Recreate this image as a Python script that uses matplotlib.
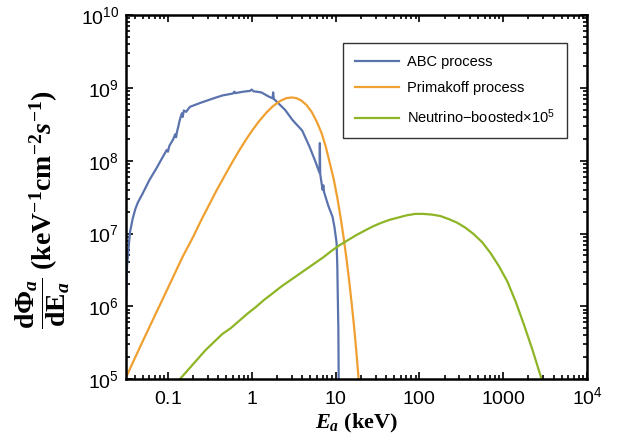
import numpy as np
import matplotlib.pyplot as plt
from matplotlib.ticker import LogLocator, FixedLocator, FixedFormatter, NullFormatter

# ABC process (keV, flux)
abc_e = [0.0316, 0.0325, 0.034, 0.0353, 0.038, 0.041, 0.044, 0.050, 0.060, 0.074, 0.085,
         0.097, 0.100, 0.104, 0.115, 0.122, 0.125, 0.128, 0.140, 0.147, 0.150,
         0.155, 0.165, 0.183, 0.25, 0.35, 0.45, 0.60, 0.62, 0.64, 0.80,
         0.95, 1.0, 1.05, 1.3, 1.6, 1.78, 1.80, 1.83, 2.04, 2.5,
         3.08, 4.0, 4.9, 5.7, 6.45, 6.50, 6.56, 7.0, 7.15, 7.3,
         8.2, 9.2, 9.7, 10.0, 10.3, 10.5, 10.6, 10.8, 10.9, 11.0]
abc_f = [1.0e6, 3.5e6, 6.5e6, 1.05e7, 1.6e7, 2.2e7, 2.7e7, 3.55e7, 5.4e7, 8.1e7, 1.08e8,
         1.41e8, 1.33e8, 1.6e8, 1.95e8, 2.3e8, 2.1e8, 2.45e8, 3.8e8, 4.5e8, 4.0e8,
         4.9e8, 4.7e8, 5.5e8, 6.3e8, 7.2e8, 7.9e8, 8.4e8, 8.9e8, 8.5e8, 8.9e8,
         9.1e8, 9.5e8, 9.0e8, 8.7e8, 7.6e8, 7.2e8, 8.7e8, 7.1e8, 6.3e8, 5.0e8,
         3.6e8, 2.6e8, 1.55e8, 1.0e8, 6.8e7, 1.75e8, 6.6e7, 4.0e7, 4.6e7, 3.7e7,
         2.4e7, 1.7e7, 1.23e7, 9.5e6, 7.4e6, 3.5e6, 1.7e6, 5.0e5, 1.0e5, 3.0e4]

# Primakoff process
prim_e = [0.0316, 0.04, 0.05, 0.07, 0.1, 0.15, 0.2, 0.25, 0.3, 0.38, 0.5, 0.6,
          0.7, 0.85, 1.0, 1.2, 1.5, 1.8, 2.2, 2.6, 3.0, 3.4, 3.9, 4.5, 5.2, 6.0,
          6.8, 7.6, 8.5, 9.5, 10.5, 11.5, 12.5, 13.5, 14.5, 15.5, 16.5, 17.5,
          18.5, 19.5]
prim_f = [1.05e5, 1.9e5, 3.3e5, 7.5e5, 1.78e6, 4.8e6, 9.0e6, 1.53e7, 2.3e7, 3.9e7, 6.9e7, 1.0e8,
          1.35e8, 1.93e8, 2.55e8, 3.4e8, 4.6e8, 5.65e8, 6.66e8, 7.25e8, 7.4e8, 7.25e8, 6.73e8, 5.84e8, 4.67e8, 3.4e8,
          2.41e8, 1.6e8, 9.5e7, 5.6e7, 3.1e7, 1.65e7, 8.7e6, 4.5e6, 2.3e6, 1.15e6, 5.8e5, 2.8e5,
          1.3e5, 6.0e4]

# Neutrino-boosted x 1e5
nu_e = [0.139, 0.178, 0.224, 0.282, 0.355, 0.447, 0.562, 0.708, 0.891, 1.12,
        1.41, 1.78, 2.24, 2.82, 3.55, 4.47, 5.62, 7.08, 8.91, 11.2,
        14.1, 17.8, 22.4, 28.2, 35.5, 44.7, 56.2, 70.8, 89.1, 112,
        141, 178, 224, 282, 355, 447, 562, 708, 891, 1122,
        1413, 1778, 2239, 2818, 3162]
nu_f = [1.0e5, 1.38e5, 1.86e5, 2.51e5, 3.24e5, 4.17e5, 5.01e5, 6.31e5, 7.94e5, 9.77e5,
        1.23e6, 1.51e6, 1.86e6, 2.24e6, 2.69e6, 3.24e6, 3.89e6, 4.68e6, 5.75e6, 6.92e6,
        8.13e6, 9.55e6, 1.10e7, 1.26e7, 1.41e7, 1.55e7, 1.66e7, 1.78e7, 1.86e7, 1.86e7,
        1.82e7, 1.74e7, 1.58e7, 1.41e7, 1.20e7, 9.77e6, 7.59e6, 5.37e6, 3.55e6, 2.19e6,
        1.15e6, 5.5e5, 2.51e5, 1.07e5, 6.3e4]

xticks = [0.1, 1, 10, 100, 1000, 1e4]
xlabels = [r"$\mathsf{0.1}$", r"$\mathsf{1}$", r"$\mathsf{10}$", r"$\mathsf{100}$",
           r"$\mathsf{1000}$", r"$\mathsf{10^{4}}$"]
yticks = [1e5, 1e6, 1e7, 1e8, 1e9, 1e10]
ylabels = [r"$\mathsf{10^{%d}}$" % k for k in range(5, 11)]

plt.rcParams["font.family"] = "Liberation Sans"
plt.rcParams["mathtext.fontset"] = "custom"
plt.rcParams["mathtext.rm"] = "Liberation Serif:bold"
plt.rcParams["mathtext.it"] = "Liberation Serif:italic:bold"
plt.rcParams["mathtext.bf"] = "Liberation Serif:bold"
plt.rcParams["mathtext.sf"] = "Liberation Sans"


def main():
    fig = plt.figure(figsize=(6.25, 4.46), dpi=100)
    ax = fig.add_axes([0.2016, 0.150, 0.7376, 0.816])

    ax.plot(abc_e, abc_f, color="#5A73AD", lw=1.6, label="ABC process")
    ax.plot(prim_e, prim_f, color="#F0A030", lw=1.6, label="Primakoff process")
    ax.plot(nu_e, nu_f, color="#8DB526", lw=1.6,
            label="Neutrino\u2212boosted\u00d710$\\mathsf{^{5}}$")

    ax.set_xscale("log")
    ax.set_yscale("log")
    ax.set_xlim(10 ** -1.5, 1e4)
    ax.set_ylim(1e5, 1e10)

    ax.set_xticks(xticks, xlabels, va="baseline")
    ax.yaxis.set_major_locator(FixedLocator(yticks))
    ax.yaxis.set_major_formatter(FixedFormatter(ylabels))
    ax.xaxis.set_minor_locator(LogLocator(base=10, subs=np.arange(2, 10), numticks=20))
    ax.yaxis.set_minor_locator(LogLocator(base=10, subs=np.arange(2, 10), numticks=20))
    ax.xaxis.set_minor_formatter(NullFormatter())
    ax.yaxis.set_minor_formatter(NullFormatter())

    ax.tick_params(which="both", direction="in", top=True, right=True, width=1.2)
    ax.tick_params(which="major", length=5, labelsize=14)
    ax.tick_params(axis="x", which="major", pad=18)
    ax.tick_params(axis="y", which="major", pad=5)
    ax.tick_params(which="minor", length=3)
    for s in ax.spines.values():
        s.set_linewidth(1.8)

    ax.set_xlabel(r"$E_a$ (keV)", fontsize=16, fontfamily="Liberation Serif",
                  fontweight="bold")
    ax.xaxis.set_label_coords(0.5, -0.09)
    ax.set_ylabel(r"$\dfrac{\mathrm{d\Phi}_a}{\mathrm{dE}_a}\ (\mathrm{keV}^{-1}\mathrm{cm}^{-2}s^{-1})$",
                  fontsize=20, fontfamily="Liberation Serif", fontweight="bold")
    ax.yaxis.set_label_coords(-0.117, 0.467)

    leg = ax.legend(loc="upper right", bbox_to_anchor=(0.957, 0.923), fontsize=10.5,
                    frameon=True, fancybox=False, edgecolor="black", borderaxespad=0,
                    handlelength=3.0, borderpad=0.8, labelspacing=0.85, handletextpad=0.6)
    leg.get_frame().set_linewidth(1.0)

    fig.savefig("out.png", dpi=100)


if __name__ == "__main__":
    main()
